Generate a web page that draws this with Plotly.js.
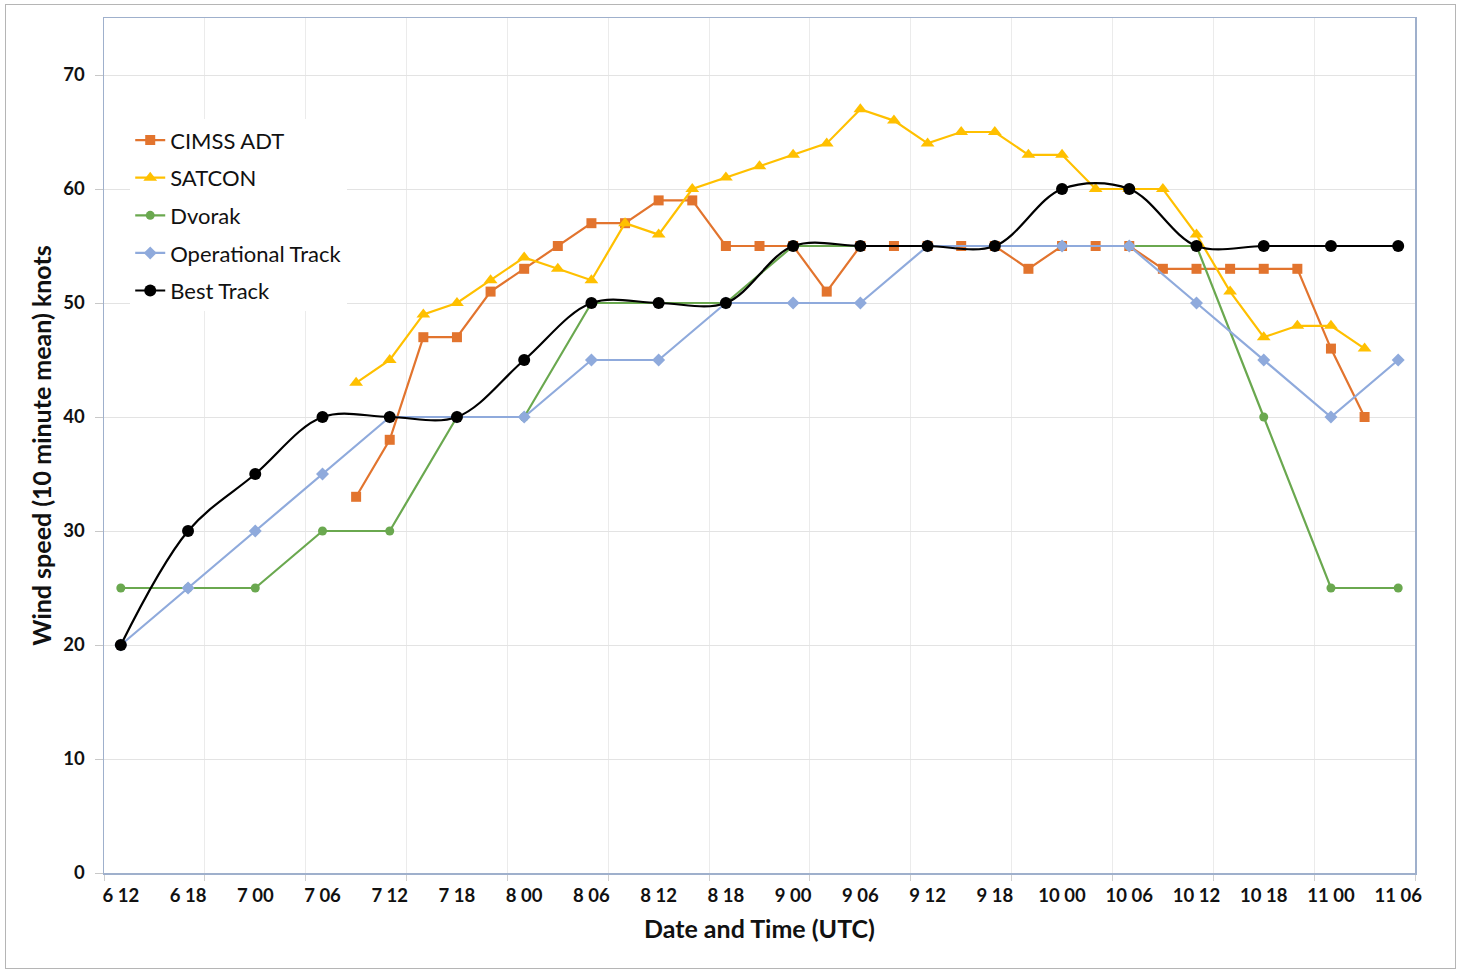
<!DOCTYPE html>
<html>
<head>
<meta charset="utf-8">
<script src="https://cdn.plot.ly/plotly-3.0.1.min.js"></script>
<style>
html,body{margin:0;padding:0;background:#fff;}
#chart{width:1464px;height:971px;}
#frame{position:absolute;left:5px;top:4px;width:1449px;height:963px;border:1.5px solid #b5b5b5;pointer-events:none;}
</style>
</head>
<body>
<div id="chart"></div>
<div id="frame"></div>
<script>
// Hours since 6 12 UTC
const sixHourly = [0,6,12,18,24,30,36,42,48,54,60,66,72,78,84,90,96,102,108,114];
const tickLabels = ["6 12","6 18","7 00","7 06","7 12","7 18","8 00","8 06","8 12","8 18",
  "9 00","9 06","9 12","9 18","10 00","10 06","10 12","10 18","11 00","11 06"];
const threeHourly = [21,24,27,30,33,36,39,42,45,48,51,54,57,60,63,66,69,72,75,78,81,84,87,90,93,96,99,102,105,108,111];

const cimssADT = [33,38,47,47,51,53,55,57,57,59,59,55,55,55,51,55,55,55,55,55,53,55,55,55,53,53,53,53,53,46,40];
const satcon = [43,45,49,50,52,54,53,52,57,56,60,61,62,63,64,67,66,64,65,65,63,63,60,60,60,56,51,47,48,48,46];
const dvorak = [25,25,25,30,30,40,40,50,50,50,55,55,55,55,55,55,55,40,25,25];
const operationalTrack = [20,25,30,35,40,40,40,45,45,50,50,50,55,55,55,55,50,45,40,45];
const bestTrack = [20,30,35,40,40,40,45,50,50,50,55,55,55,55,60,60,55,55,55,55];

const traces = [
  {x: threeHourly, y: cimssADT, name: "CIMSS ADT", mode: "lines+markers", legendgroup: "a",
   line: {color: "#E2742E", width: 2.2}, marker: {symbol: "square", size: 10, color: "#E2742E"}},
  {x: threeHourly, y: satcon, name: "SATCON", mode: "lines+markers", legendgroup: "b",
   line: {color: "#FFC000", width: 2.2}, marker: {symbol: "triangle-up", size: 12, color: "#FFC000"}},
  {x: sixHourly, y: dvorak, name: "Dvorak", mode: "lines+markers", legendgroup: "c",
   line: {color: "#6AA84F", width: 2.2}, marker: {symbol: "circle", size: 9, color: "#6AA84F"}},
  {x: sixHourly, y: operationalTrack, name: "Operational Track", mode: "lines+markers", legendgroup: "d",
   line: {color: "#8FAADC", width: 2.2}, marker: {symbol: "diamond", size: 10, color: "#8FAADC"}},
  {x: sixHourly, y: bestTrack, name: "Best Track", mode: "lines+markers", legendgroup: "e",
   line: {color: "#000000", width: 2.2, shape: "spline", smoothing: 1}, marker: {symbol: "circle", size: 12, color: "#000000"}}
];

const layout = {
  width: 1464, height: 971,
  margin: {l: 104, r: 49, t: 18, b: 98},
  paper_bgcolor: "#ffffff", plot_bgcolor: "#ffffff",
  font: {family: "Lato, 'Open Sans', sans-serif", color: "#000"},
  showlegend: true,
  legend: {x: 0.02, y: 0.8815, xanchor: "left", yanchor: "top", bgcolor: "#ffffff",
    font: {size: 22, color: "#111"}, traceorder: "grouped", tracegroupgap: 6},
  xaxis: {
    range: [-1.5, 115.5], tickmode: "array", tickvals: sixHourly, ticktext: tickLabels,
    showgrid: false, zeroline: false, ticks: "", ticklabelstandoff: 5,
    tickfont: {size: 18.5, family: "Lato", weight: "bold", color: "#111"},
    showline: true, linecolor: "#9fb0cc", linewidth: 1.5, mirror: true,
    minor: {tickmode: "linear", tick0: -1.5, dtick: 9, showgrid: true, gridcolor: "#ebebeb", gridwidth: 1,
      ticks: "outside", ticklen: 6, tickcolor: "#cfcfcf"},
    title: {text: "Date and Time (UTC)", font: {size: 25, family: "Lato", weight: "bold", color: "#111"}, standoff: 16}
  },
  yaxis: {
    range: [0, 75], tick0: 0, dtick: 10, showgrid: true, gridcolor: "#e3e3e3", gridwidth: 1,
    zeroline: false, ticks: "outside", ticklen: 8, tickcolor: "#c8c8c8", ticklabelstandoff: 6,
    tickfont: {size: 18.5, family: "Lato", weight: "bold", color: "#111"},
    showline: true, linecolor: "#9fb0cc", linewidth: 1.5, mirror: true,
    title: {text: "Wind speed (10 minute mean) knots", font: {size: 25, family: "Lato", weight: "bold", color: "#111"}, standoff: 4}
  }
};

Plotly.newPlot("chart", traces, layout, {displayModeBar: false, staticPlot: true});
</script>
</body>
</html>
